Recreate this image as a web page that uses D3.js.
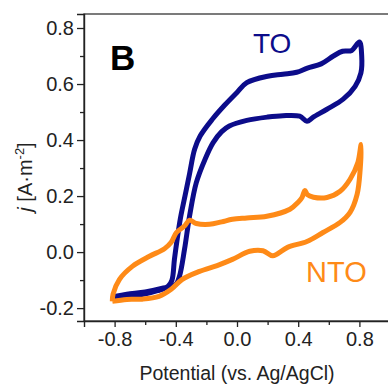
<!DOCTYPE html>
<html>
<head>
<meta charset="utf-8">
<script src="https://cdn.jsdelivr.net/npm/d3@7"></script>
<style>
  body { margin: 0; background: #fff; }
  svg { display: block; font-family: Arial, "Liberation Sans", sans-serif; }
</style>
</head>
<body>
<div id="chart"></div>
<script>
// TO loop (forward scan then reverse scan), potential in V vs Ag/AgCl, j in A/m2
const toPotential = [-0.80, -0.72, -0.62, -0.52, -0.45, -0.425, -0.409, -0.39, -0.37, -0.34, -0.31, -0.277,
  -0.24, -0.16, -0.08, 0.00, 0.064, 0.20, 0.30, 0.39, 0.46, 0.55, 0.63, 0.69, 0.75, 0.80,
  0.815, 0.81, 0.772, 0.694, 0.588, 0.496, 0.457, 0.41, 0.30, 0.20, 0.064, -0.05, -0.10, -0.157,
  -0.21, -0.266, -0.31, -0.343, -0.376, -0.40, -0.48, -0.60, -0.72, -0.80];
const toCurrent = [-0.165, -0.160, -0.152, -0.138, -0.122, -0.100, -0.026, 0.050, 0.120, 0.200, 0.280, 0.367,
  0.415, 0.475, 0.525, 0.570, 0.605, 0.628, 0.635, 0.642, 0.657, 0.672, 0.700, 0.717, 0.720, 0.750,
  0.700, 0.640, 0.592, 0.546, 0.510, 0.481, 0.467, 0.485, 0.487, 0.482, 0.470, 0.450, 0.430, 0.390,
  0.330, 0.248, 0.129, 0.010, -0.086, -0.115, -0.128, -0.142, -0.150, -0.158];

// NTO loop
const ntoPotential = [-0.815, -0.72, -0.62, -0.51, -0.43, -0.36, -0.245, -0.13, -0.03, 0.083, 0.17, 0.234,
  0.33, 0.457, 0.562, 0.674, 0.739, 0.785, 0.805, 0.811,
  0.79, 0.739, 0.674, 0.588, 0.50, 0.46, 0.444, 0.425, 0.40, 0.346, 0.195, 0.064, -0.03, -0.10,
  -0.18, -0.266, -0.31, -0.343, -0.397, -0.43, -0.474, -0.572, -0.684, -0.769, -0.81, -0.815];
const ntoCurrent = [-0.176, -0.169, -0.168, -0.158, -0.133, -0.098, -0.069, -0.048, -0.026, 0.003, 0.005, -0.013,
  0.017, 0.038, 0.070, 0.106, 0.142, 0.206, 0.295, 0.384,
  0.320, 0.260, 0.217, 0.195, 0.196, 0.205, 0.220, 0.195, 0.178, 0.153, 0.128, 0.122, 0.117, 0.108,
  0.099, 0.102, 0.114, 0.093, 0.069, 0.035, 0.012, -0.015, -0.051, -0.098, -0.150, -0.176];

const xTicks = [-0.8, -0.4, 0.0, 0.4, 0.8];
const xMinorTicks = [-0.6, -0.2, 0.2, 0.6];
const yTicks = [-0.2, 0.0, 0.2, 0.4, 0.6, 0.8];
const yMinorTicks = [-0.1, 0.1, 0.3, 0.5, 0.7];

const W = 388, H = 386;
const margin = {top: 14, right: -2, bottom: 65, left: 84};
const chtW = W - margin.left - margin.right;
const chtH = H - margin.top - margin.bottom;

const blue = '#0c0c8a';
const orange = '#fe8a17';
const axisColor = '#222';
const fmt = d => d3.format('.1f')(d).replace('−', '-');

const svg = d3.select('#chart').append('svg')
  .attr('width', W)
  .attr('height', H);

const g = svg.append('g')
  .attr('transform', 'translate(' + margin.left + ',' + margin.top + ')');

const x = d3.scaleLinear().domain([-1.0, 1.0]).range([0, chtW]);
const y = d3.scaleLinear().domain([-0.246, 0.85]).range([chtH, 0]);

// frame
g.append('rect')
  .attr('x', 0)
  .attr('y', 0)
  .attr('width', chtW)
  .attr('height', chtH)
  .attr('fill', 'none')
  .attr('stroke', '#444')
  .attr('stroke-width', 1.4);

// minor ticks
g.append('g')
  .attr('class', 'minor')
  .attr('transform', 'translate(0,' + chtH + ')')
  .call(d3.axisBottom(x).tickValues(xMinorTicks).tickSize(4).tickFormat(''));

g.append('g')
  .attr('class', 'minor')
  .call(d3.axisLeft(y).tickValues(yMinorTicks).tickSize(4).tickFormat(''));

g.selectAll('.minor .domain').remove();

// major axes
g.append('g')
  .attr('class', 'x axis')
  .attr('transform', 'translate(0,' + chtH + ')')
  .call(d3.axisBottom(x).tickValues(xTicks).tickSize(6).tickPadding(5).tickFormat(fmt));

g.append('g')
  .attr('class', 'y axis')
  .call(d3.axisLeft(y).tickValues(yTicks).tickSize(7).tickPadding(3).tickFormat(fmt));

g.selectAll('.domain').attr('stroke', axisColor).attr('stroke-width', 1.4);
g.selectAll('.tick line').attr('stroke', axisColor).attr('stroke-width', 1.3);
g.selectAll('.axis .tick text')
  .attr('fill', '#222')
  .style('font-family', 'Arial, "Liberation Sans", sans-serif')
  .style('font-size', '20px');

// curves
const line = d3.line()
  .x(d => x(d[0]))
  .y(d => y(d[1]))
  .curve(d3.curveCatmullRom.alpha(0.5));

const toData = toPotential.map((p, i) => [p, toCurrent[i]]);
const ntoData = ntoPotential.map((p, i) => [p, ntoCurrent[i]]);

g.append('path')
  .datum(toData)
  .attr('fill', 'none')
  .attr('stroke', blue)
  .attr('stroke-width', 5)
  .attr('stroke-linejoin', 'round')
  .attr('d', line);

g.append('path')
  .datum(ntoData)
  .attr('fill', 'none')
  .attr('stroke', orange)
  .attr('stroke-width', 5)
  .attr('stroke-linejoin', 'round')
  .attr('d', line);

// labels
svg.append('text')
  .attr('x', 110)
  .attr('y', 70)
  .attr('font-size', 35)
  .attr('font-weight', 'bold')
  .attr('fill', '#000')
  .text('B');

svg.append('text')
  .attr('x', 253)
  .attr('y', 53)
  .attr('font-size', 28)
  .attr('fill', blue)
  .text('TO');

svg.append('text')
  .attr('x', 306)
  .attr('y', 282)
  .attr('font-size', 29)
  .attr('fill', orange)
  .text('NTO');

svg.append('text')
  .attr('x', margin.left + x(0))
  .attr('y', 380)
  .attr('text-anchor', 'middle')
  .attr('font-size', 19.5)
  .attr('fill', '#222')
  .text('Potential (vs. Ag/AgCl)');

const yLabel = svg.append('text')
  .attr('transform', 'translate(32,177) rotate(-90)')
  .attr('text-anchor', 'middle')
  .attr('font-size', 20)
  .attr('fill', '#222');
yLabel.append('tspan').attr('font-style', 'italic').text('j');
yLabel.append('tspan').text(' [A·m');
yLabel.append('tspan').attr('font-size', 13).attr('dy', -8).text('-2');
yLabel.append('tspan').attr('dy', 8).text(']');
</script>
</body>
</html>
